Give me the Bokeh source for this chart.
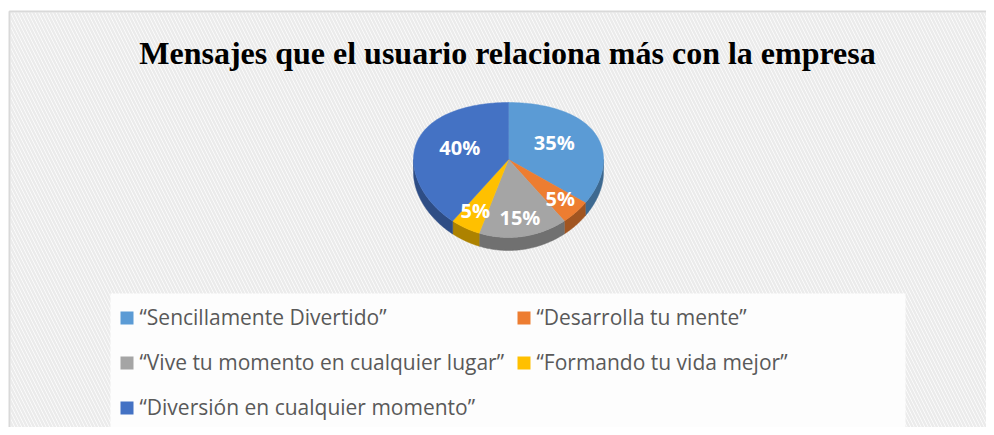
import numpy as np
from bokeh.plotting import figure
from bokeh.models import Range1d
from bokeh.core.properties import value
from bokeh.embed import file_html
from bokeh.resources import INLINE

# ---- data ----
title_text = "Mensajes que el usuario relaciona más con la empresa"
categories = ["“Sencillamente Divertido”", "“Desarrolla tu mente”",
              "“Vive tu momento en cualquier lugar”", "“Formando tu vida mejor”",
              "“Diversión en cualquier momento”"]
values = [35, 5, 15, 5, 40]
colors = ["#5B9BD5", "#ED7D31", "#A5A5A5", "#FFC000", "#4472C4"]

# ---- layout helpers (screen pixels -> data units) ----
W, H = 986, 427
def X(sx):
    return sx
def Y(sy):
    return H - sy

p = figure(width=W, height=H, x_range=Range1d(0, W), y_range=Range1d(0, H),
           output_backend="svg", toolbar_location=None, min_border=0,
           x_axis_location=None, y_axis_location=None, outline_line_color=None)
p.grid.visible = False
p.background_fill_color = "white"
p.border_fill_color = "white"

# hatched chart background and border
p.quad(left=[X(10)], right=[W + 10], top=[Y(12)], bottom=[-10],
       fill_color="white", line_color=None,
       hatch_pattern="left_diagonal_line", hatch_color="#ebebeb",
       hatch_weight=2.5, hatch_scale=7)
p.quad(left=[X(9)], right=[W + 10], top=[Y(11)], bottom=[-10],
       fill_color=None, line_color="#d9d9d9", line_width=2)

# legend background
p.quad(left=[X(110)], right=[X(905)], top=[Y(293)], bottom=[-10],
       fill_color="#fdfdfd", line_color=None)

# title
p.text(x=[X(507)], y=[Y(52)], text=[title_text], text_align="center",
       text_baseline="alphabetic", text_font=value("Liberation Serif"),
       text_font_style="bold", text_font_size="32px", text_color="black")

# ---- 3D pie ----
cx, cy = X(508), Y(159)
RX, A, B, DEPTH = 95.0, 67.5, 10.5, 13.0

def proj(th_deg, f=1.0):
    t = np.radians(th_deg)
    s = np.sin(t)
    return cx + f * RX * np.cos(t), cy + f * (A * s - B * s * s)

def darken(hexc, k=0.68):
    r, g, b = int(hexc[1:3], 16), int(hexc[3:5], 16), int(hexc[5:7], 16)
    return "#%02x%02x%02x" % (int(r * k), int(g * k), int(b * k))

total = float(sum(values))
starts, ends = [], []
a = 90.0
for v in values:
    starts.append(a)
    a = a - 360.0 * v / total
    ends.append(a)

# side walls (front half only)
for a0, a1, c in zip(starts, ends, colors):
    hi, lo = min(a0, 0.0), max(a1, -180.0)
    if lo < hi:
        th = np.linspace(hi, lo, 80)
        xs, ys = proj(th)
        px = np.concatenate([xs, xs[::-1]])
        py = np.concatenate([ys, ys[::-1] - DEPTH])
        p.patch(px, py, fill_color=darken(c), line_color=darken(c), line_width=0.5)

# top faces
for a0, a1, c in zip(starts, ends, colors):
    th = np.linspace(a0, a1, 120)
    xs, ys = proj(th)
    px = np.concatenate([[cx], xs])
    py = np.concatenate([[cy], ys])
    p.patch(px, py, fill_color=c, line_color=c, line_width=0.5)

# data labels
lx, ly, lt = [], [], []
for a0, a1, v in zip(starts, ends, values):
    mid = (a0 + a1) / 2.0
    f = 0.54 if v / total > 0.3 else 0.77
    x, y = proj(mid, f)
    lx.append(float(x)); ly.append(float(y) + 1.5)
    lt.append("%d%%" % round(100 * v / total))
p.text(x=lx, y=ly, text=lt, text_align="center", text_baseline="middle",
       text_font=value("Open Sans"), text_font_style="bold",
       text_font_size="20px", text_color="white")

# ---- legend ----
mx, my, tx, ty = [], [], [], []
for i in range(len(categories)):
    row, col = i // 2, i % 2
    x0 = X(126.5) + col * (523.5 - 126.5)
    y0 = Y(317.5) - row * 45
    mx.append(x0); my.append(y0)
    tx.append(x0 + 12.5); ty.append(y0 + 1.5)
p.rect(x=mx, y=my, width=13, height=13, fill_color=colors, line_color=None)
p.text(x=tx, y=ty, text=categories, text_align="left", text_baseline="middle",
       text_font=value("Open Sans"), text_font_size="21px", text_color="#595959")

open("out.html", "w").write(file_html(p, INLINE))
